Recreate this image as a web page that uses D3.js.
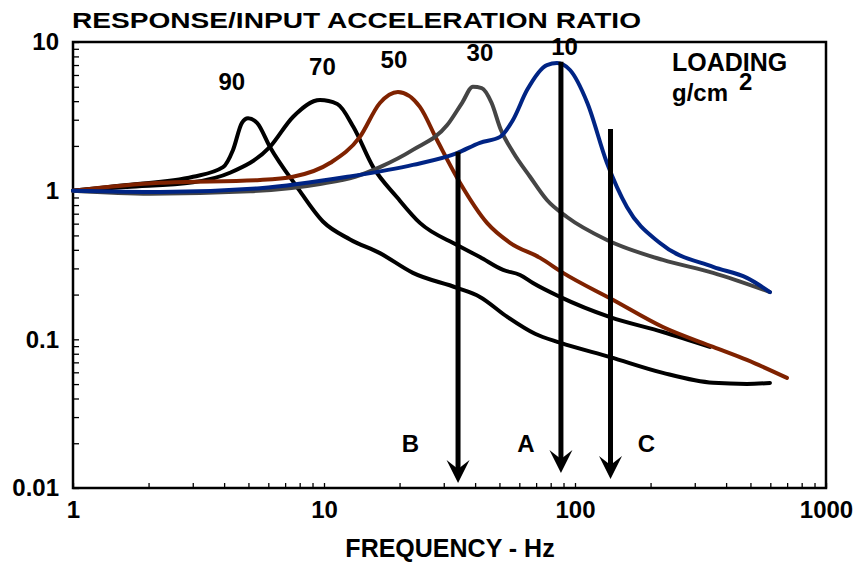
<!DOCTYPE html>
<html>
<head>
<meta charset="utf-8">
<script src="https://cdn.jsdelivr.net/npm/d3@7"></script>
<style>
  body { margin: 0; background: #fff; }
  text { font-family: "Liberation Sans", Arial, sans-serif; font-weight: bold; fill: #000; }
</style>
</head>
<body>
<svg id="chart" width="857" height="562"></svg>
<script>
// response / input ratio curves, [frequency Hz, ratio]
var curve90 = [[1,1],[1.64,1.09],[3.01,1.24],[3.96,1.44],[4.34,1.88],[4.71,2.86],[4.98,3.07],[5.41,2.86],
    [6.09,1.97],[7.8,1.06],[9.9,0.62],[12.7,0.47],[16.7,0.38],[22.6,0.28],[33.9,0.222],[41.8,0.193],
    [53.6,0.142],[69.3,0.109],[87.1,0.095],[138,0.076],[224,0.0595],[355,0.051],[484,0.0501],[598,0.0509]];
var curve70 = [[1,1],[1.64,1.06],[3.01,1.14],[4.22,1.32],[6.09,1.97],[7.52,3.13],[9.64,4.07],[11.3,3.83],
    [13.1,2.68],[15.7,1.44],[19.5,0.907],[24.1,0.607],[33.9,0.431],[41.8,0.358],[51.7,0.293],[60.4,0.271],
    [68,0.239],[87.1,0.193],[138,0.141],[224,0.112],[345,0.089]];
var curve50 = [[1,1],[2.22,1.13],[5.56,1.18],[7.52,1.24],[10.6,1.54],[13.9,2.3],[16.7,3.89],[19.7,4.61],
    [24.1,3.66],[28.2,2.19],[34.8,1.13],[44.6,0.607],[55.1,0.446],[72.6,0.353],[89.6,0.28],[142,0.184],
    [224,0.121],[355,0.089],[484,0.0727],[699,0.055]];
var curve30 = [[1,1],[2.03,0.955],[5.07,0.99],[9.64,1.11],[13.3,1.24],[16.7,1.44],[22.6,1.88],[30.9,2.75],
    [35.5,3.9],[39.2,5.0],[42.5,4.9],[46.5,3.9],[50.5,2.6],[56.6,1.82],[66.2,1.24],[77.3,0.865],[92.9,0.665],
    [134,0.466],[224,0.342],[355,0.28],[598,0.208]];
var curve10 = [[1,1],[2.22,0.98],[5.56,1.04],[12.4,1.24],[22.6,1.49],[33.9,1.79],[41.8,2.1],[50.3,2.3],
    [56.6,2.99],[64.4,4.75],[77.3,7.0],[84.8,7.22],[95.5,6.48],[112,3.89],[134,1.54],[161,0.776],
    [218,0.444],[355,0.307],[484,0.259],[598,0.208]];

// loading labels (g/cm2) and where they sit
var loadNames = ["90", "70", "50", "30", "10"];
var loadLabelFreq = [4.29, 9.86, 19.0, 41.8, 90.8];
var loadLabelVal = [4.75, 5.99, 6.67, 7.45, 8.18];

// arrows B, A, C
var arrowNames = ["B", "A", "C"];
var arrowFreq = [34.2, 87.9, 138.5];
var arrowTop = [1.83, 7.37, 2.6];
var arrowTip = [0.0108, 0.0126, 0.0115];
var arrowLabelFreq = [22.1, 63.8, 192.7];
var arrowLabelVal = 0.0175;

// axis ticks
var xMajor = [1, 10, 100, 1000];
var xMajorLabels = ["1", "10", "100", "1000"];
var yMajor = [0.01, 0.1, 1, 10];
var yMajorLabels = ["0.01", "0.1", "1", "10"];

(function(){
    var series = [
        {name: "90", data: curve90},
        {name: "70", data: curve70},
        {name: "50", data: curve50},
        {name: "30", data: curve30},
        {name: "10", data: curve10}
    ];
    var colors = {"90": "#000", "70": "#000", "50": "#7f2200", "30": "#454545", "10": "#002484"};

    var svg = d3.select("#chart");
    var plotLeft = 73, plotRight = 826, plotTop = 42, plotBottom = 488;

    var x = d3.scaleLog().domain([1, 1000]).range([plotLeft, plotRight]);
    var y = d3.scaleLog().domain([0.01, 10]).range([plotBottom, plotTop]);

    function majorLabel(majors, labels){
        return function(d){
            var i = majors.findIndex(function(m){ return Math.abs(m - d) / m < 1e-6; });
            return i > -1 ? labels[i] : "";
        };
    }

    // y axis, ticks pointing inwards
    var yAxis = d3.axisLeft(y)
        .tickValues(y.ticks())
        .tickSize(-6)
        .tickPadding(14)
        .tickFormat(majorLabel(yMajor, yMajorLabels));
    var gy = svg.append("g").attr("transform", "translate(" + plotLeft + ",0)").call(yAxis);

    var xAxis = d3.axisBottom(x)
        .tickValues(x.ticks())
        .tickSize(-5)
        .tickPadding(13)
        .tickFormat(majorLabel(xMajor, xMajorLabels));
    var gx = svg.append("g").attr("transform", "translate(0," + plotBottom + ")").call(xAxis);

    [gx, gy].forEach(function(g){
        g.select(".domain").remove();
        g.selectAll(".tick line").attr("stroke", "#000").attr("stroke-width", 1.3);
        g.selectAll(".tick text").style("font-size", "24px").attr("fill", "#000");
    });

    // frame
    svg.append("rect")
        .attr("x", plotLeft).attr("y", plotTop)
        .attr("width", plotRight - plotLeft).attr("height", plotBottom - plotTop)
        .attr("fill", "none").attr("stroke", "#000").attr("stroke-width", 2.5);

    var line = d3.line()
        .x(function(d){ return x(d[0]); })
        .y(function(d){ return y(d[1]); })
        .curve(d3.curveMonotoneX);

    svg.selectAll(".curve").data(series).enter()
        .append("path").attr("class", "curve")
        .attr("d", function(d){ return line(d.data); })
        .attr("fill", "none")
        .attr("stroke", function(d){ return colors[d.name]; })
        .attr("stroke-width", 4)
        .attr("stroke-linecap", "round")
        .attr("stroke-linejoin", "round");

    // arrows
    arrowNames.forEach(function(n, i){
        var ax = x(arrowFreq[i]), ty = y(arrowTip[i]);
        svg.append("line")
            .attr("x1", ax).attr("x2", ax)
            .attr("y1", y(arrowTop[i])).attr("y2", ty - 12)
            .attr("stroke", "#000").attr("stroke-width", 5);
        svg.append("path")
            .attr("d", "M" + ax + "," + ty + " L" + (ax - 11.5) + "," + (ty - 23) +
                " L" + ax + "," + (ty - 14) + " L" + (ax + 11.5) + "," + (ty - 23) + "Z")
            .attr("fill", "#000");
        svg.append("text")
            .attr("x", x(arrowLabelFreq[i])).attr("y", y(arrowLabelVal))
            .attr("text-anchor", "middle")
            .style("font-size", "24px")
            .text(n);
    });

    // loading labels
    loadNames.forEach(function(n, i){
        svg.append("text")
            .attr("x", x(loadLabelFreq[i])).attr("y", y(loadLabelVal[i]))
            .attr("text-anchor", "middle")
            .style("font-size", "24px")
            .text(n);
    });

    svg.append("text").attr("x", 672).attr("y", 71).style("font-size", "25px").text("LOADING");
    svg.append("text").attr("x", 672).attr("y", 101).style("font-size", "24px").text("g/cm");
    svg.append("text").attr("x", 739).attr("y", 90).style("font-size", "24px").text("2");

    // titles
    svg.append("text")
        .attr("x", 72).attr("y", 28)
        .attr("textLength", 569).attr("lengthAdjust", "spacingAndGlyphs")
        .style("font-size", "22px")
        .text("RESPONSE/INPUT ACCELERATION RATIO");

    svg.append("text")
        .attr("x", 450).attr("y", 557)
        .attr("text-anchor", "middle")
        .style("font-size", "25px")
        .text("FREQUENCY - Hz");
})();
</script>
</body>
</html>
